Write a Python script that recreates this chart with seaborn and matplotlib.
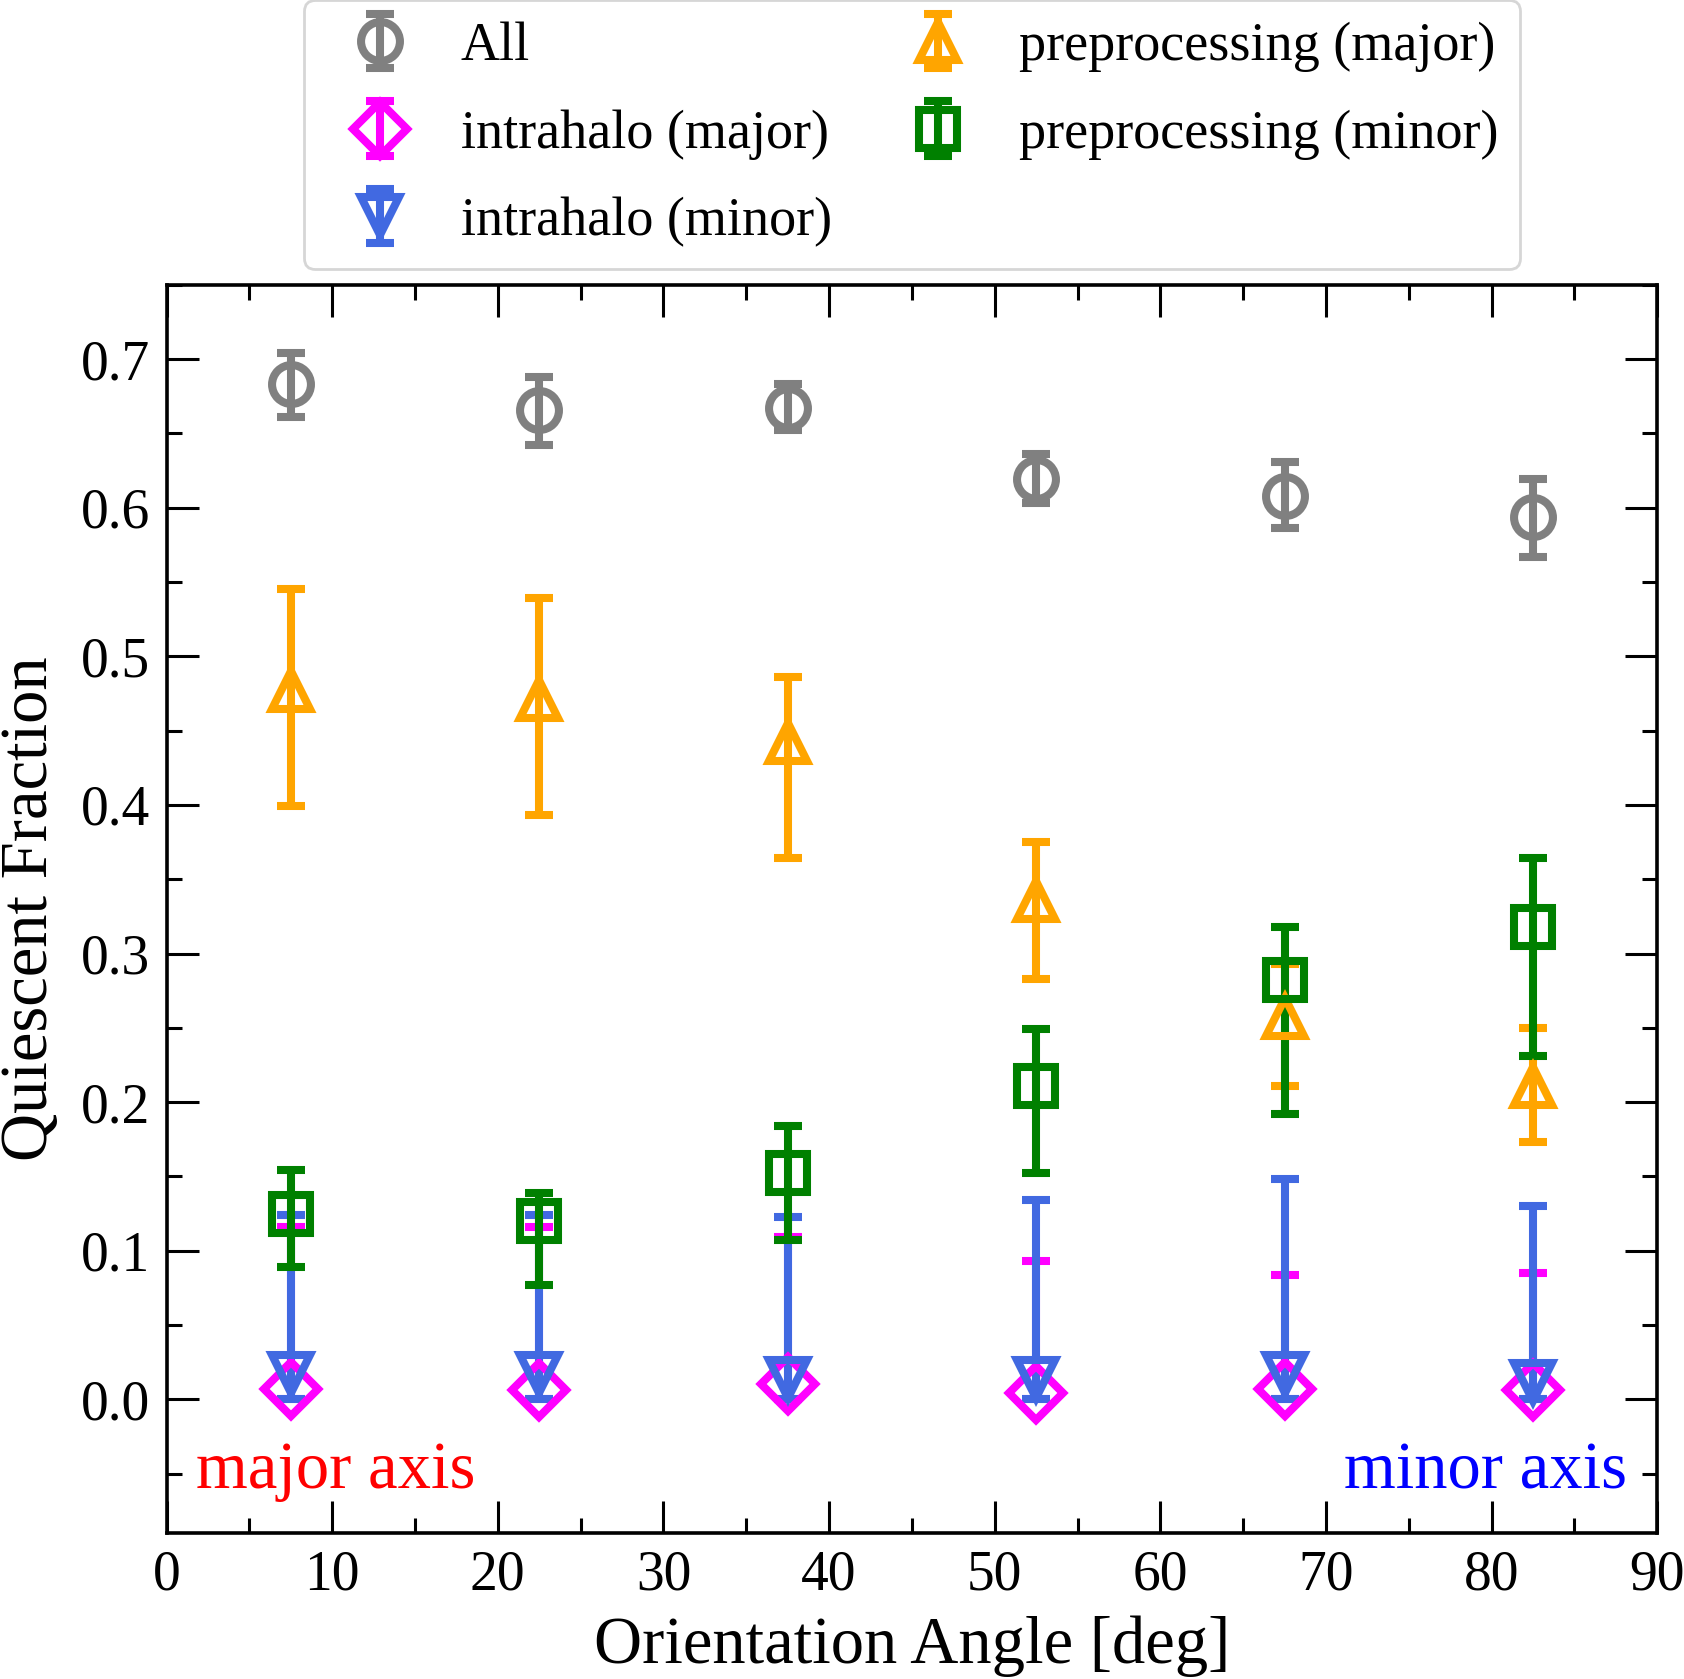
import numpy as np
import matplotlib
matplotlib.use("Agg")
import matplotlib.pyplot as plt
import seaborn as sns
from matplotlib.ticker import MultipleLocator

# bin centres of the orientation angle
angle = [7.5, 22.5, 37.5, 52.5, 67.5, 82.5]

# All satellites
all_frac = [0.683, 0.666, 0.667, 0.619, 0.608, 0.594]
all_lo = [0.022, 0.024, 0.015, 0.016, 0.022, 0.027]
all_hi = [0.021, 0.022, 0.016, 0.017, 0.023, 0.025]

# intrahalo, major axis
ih_major = [0.007, 0.006, 0.010, 0.004, 0.007, 0.006]
ih_major_lo = [0.007, 0.006, 0.010, 0.004, 0.007, 0.006]
ih_major_hi = [0.109, 0.110, 0.099, 0.089, 0.077, 0.079]

# intrahalo, minor axis
ih_minor = [0.017, 0.017, 0.014, 0.014, 0.017, 0.012]
ih_minor_lo = [0.017, 0.017, 0.014, 0.014, 0.017, 0.012]
ih_minor_hi = [0.107, 0.107, 0.109, 0.120, 0.131, 0.118]

# preprocessing, major axis
pp_major = [0.477, 0.471, 0.442, 0.336, 0.257, 0.211]
pp_major_lo = [0.078, 0.078, 0.078, 0.053, 0.046, 0.038]
pp_major_hi = [0.068, 0.068, 0.044, 0.039, 0.036, 0.039]

# preprocessing, minor axis
pp_minor = [0.125, 0.120, 0.152, 0.211, 0.282, 0.318]
pp_minor_lo = [0.036, 0.043, 0.045, 0.059, 0.090, 0.087]
pp_minor_hi = [0.029, 0.019, 0.032, 0.038, 0.036, 0.046]

series = [
    ("All", all_frac, all_lo, all_hi, "o", "gray"),
    ("intrahalo (major)", ih_major, ih_major_lo, ih_major_hi, "D", "magenta"),
    ("intrahalo (minor)", ih_minor, ih_minor_lo, ih_minor_hi, "v", "royalblue"),
    ("preprocessing (major)", pp_major, pp_major_lo, pp_major_hi, "^", "orange"),
    ("preprocessing (minor)", pp_minor, pp_minor_lo, pp_minor_hi, "s", "green"),
]

sns.set_theme(style="ticks")
plt.rcParams["font.family"] = ["Liberation Serif", "DejaVu Serif"]
plt.rcParams["mathtext.fontset"] = "stix"
plt.rcParams["text.color"] = "black"
plt.rcParams["axes.labelcolor"] = "black"
plt.rcParams["xtick.color"] = "black"
plt.rcParams["ytick.color"] = "black"

fig = plt.figure(figsize=(8.42, 8.395), dpi=200)
ax = fig.add_axes([0.0989, 0.0869, 0.8852, 0.7435])

for label, y, lo, hi, mk, col in series:
    ax.errorbar(angle, y, yerr=[lo, hi], fmt=mk, color=col, mfc="none",
                mec=col, ms=14, mew=2.9, elinewidth=2.9, capsize=5,
                capthick=2.9, label=label)

ax.set_xlim(0, 90)
ax.set_ylim(-0.09, 0.75)
ax.xaxis.set_major_locator(MultipleLocator(10))
ax.xaxis.set_minor_locator(MultipleLocator(5))
ax.yaxis.set_major_locator(MultipleLocator(0.1))
ax.yaxis.set_minor_locator(MultipleLocator(0.05))
ax.yaxis.set_major_formatter(matplotlib.ticker.FormatStrFormatter("%.1f"))

ax.tick_params(which="both", direction="in", top=True, right=True,
               labelsize=20, width=1.1, colors="black", labelcolor="black")
ax.tick_params(which="major", length=11.5, pad=6)
ax.tick_params(which="minor", length=5.5)
for sp in ax.spines.values():
    sp.set_linewidth(1.3)
    sp.set_color("black")

ax.set_xlabel("Orientation Angle [deg]", fontsize=24, labelpad=5)
ax.set_ylabel("Quiescent Fraction", fontsize=24, labelpad=7)

ax.text(0.02, 0.036, "major axis", color="red", fontsize=24,
        transform=ax.transAxes, ha="left", va="baseline")
ax.text(0.98, 0.036, "minor axis", color="blue", fontsize=24,
        transform=ax.transAxes, ha="right", va="baseline")

leg = ax.legend(loc="lower center", bbox_to_anchor=(0.5, 1.0), ncol=2,
                fontsize=19.5, borderaxespad=0.3, handlelength=2.0,
                handletextpad=0.5, columnspacing=0.95, labelspacing=0.68,
                frameon=True)
for t in leg.get_texts():
    t.set_color("black")

fig.savefig("out.png", dpi=200)
